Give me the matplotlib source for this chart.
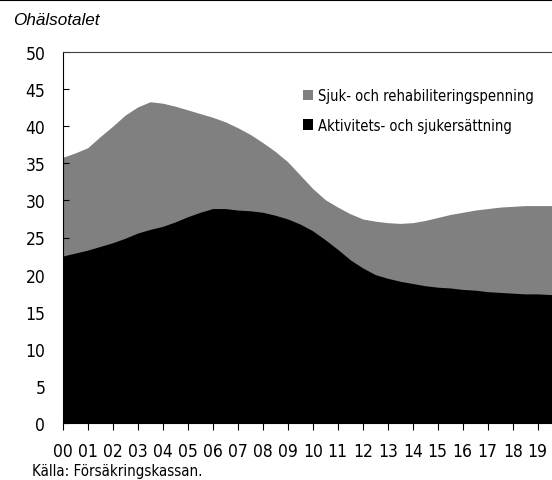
import matplotlib
matplotlib.use("Agg")
import matplotlib.pyplot as plt
from matplotlib.patches import Patch
from matplotlib.lines import Line2D
from matplotlib import font_manager as fm

# Data (half-year readings, years since 2000)
years = [0.0, 0.5, 1.0, 1.5, 2.0, 2.5, 3.0, 3.5, 4.0, 4.5, 5.0, 5.5, 6.0, 6.5,
         7.0, 7.5, 8.0, 8.5, 9.0, 9.5, 10.0, 10.5, 11.0, 11.5, 12.0, 12.5,
         13.0, 13.5, 14.0, 14.5, 15.0, 15.5, 16.0, 16.5, 17.0, 17.5, 18.0,
         18.5, 19.0, 19.57]
total = [35.8, 36.4, 37.1, 38.6, 40.0, 41.5, 42.6, 43.3, 43.1, 42.7, 42.2,
         41.7, 41.2, 40.6, 39.8, 38.9, 37.8, 36.6, 35.2, 33.4, 31.6, 30.1,
         29.1, 28.2, 27.5, 27.2, 27.0, 26.9, 27.0, 27.3, 27.7, 28.1, 28.4,
         28.7, 28.9, 29.1, 29.2, 29.3, 29.3, 29.3]
aktivitet = [22.5, 22.9, 23.3, 23.8, 24.3, 24.9, 25.6, 26.1, 26.5, 27.1,
             27.8, 28.4, 28.9, 28.9, 28.7, 28.6, 28.4, 28.0, 27.5, 26.8,
             25.9, 24.7, 23.4, 22.0, 20.9, 20.0, 19.5, 19.1, 18.8, 18.5,
             18.3, 18.2, 18.0, 17.9, 17.7, 17.6, 17.5, 17.4, 17.4, 17.3]
tick_labels = ["00", "01", "02", "03", "04", "05", "06", "07", "08", "09",
               "10", "11", "12", "13", "14", "15", "16", "17", "18", "19"]
series_labels = ["Sjuk- och rehabiliteringspenning", "Aktivitets- och sjukersättning"]

# Find a condensed / narrow regular font if one is installed
cond = None
for f in fm.fontManager.ttflist:
    nm = (f.name + " " + f.fname).lower()
    is_cond = ("condensed" in nm or "narrow" in nm or
               str(f.stretch) in ("condensed", "semi-condensed", "extra-condensed"))
    if is_cond and f.style == "normal" and str(f.weight) in ("400", "normal", "book", "regular") \
            and "mono" not in nm and "serif" not in nm.replace("sans", ""):
        cond = f.fname
        break

if cond:
    def fp(size):
        return fm.FontProperties(fname=cond, size=size)
    tick_size, leg_size, src_size = 12.5, 10.5, 10.8
else:
    def fp(size):
        return fm.FontProperties(family=["Liberation Sans", "DejaVu Sans"], size=size)
    tick_size, leg_size, src_size = 11, 9.5, 9.5

W, H = 552, 481
fig = plt.figure(figsize=(W / 100, H / 100), dpi=100)
ax = fig.add_axes([62.7 / W, 1 - 424 / H, 1 - 62.7 / W, (424 - 53) / H])

ax.fill_between(years, 0, total, color="#808080", linewidth=0)
ax.fill_between(years, 0, aktivitet, color="#000000", linewidth=0)

ax.set_xlim(0, 19.57)
ax.set_ylim(0, 50)
ax.set_xticks(range(len(tick_labels)))
ax.set_xticklabels(tick_labels)
ax.set_yticks(range(0, 51, 5))

for lab in ax.get_xticklabels() + ax.get_yticklabels():
    lab.set_fontproperties(fp(tick_size))

ax.tick_params(axis="y", direction="in", length=4.3, width=0.8, pad=12.5, left=True)
ax.tick_params(axis="x", direction="out", length=5, width=0.8, pad=8.5)

ax.spines["right"].set_visible(False)
ax.spines["top"].set_color("#404040")
ax.spines["top"].set_linewidth(0.8)
ax.spines["left"].set_linewidth(0.8)
ax.spines["bottom"].set_linewidth(0.8)

handles = [Patch(facecolor="#808080", edgecolor="none"),
           Patch(facecolor="#000000", edgecolor="none")]
leg = ax.legend(handles, series_labels, loc="upper left",
                bbox_to_anchor=(303 / W, 1 - 89 / H), bbox_transform=fig.transFigure,
                frameon=False, handlelength=0.7, handleheight=0.7,
                handletextpad=0.33, labelspacing=1.0, borderaxespad=0,
                borderpad=0, prop=fp(leg_size))

fig.text(13 / W, 1 - 20.7 / H, "Ohälsotalet", fontsize=12.3, style="italic",
         family=["Liberation Sans", "DejaVu Sans"], va="center", ha="left")
fig.text(32 / W, 1 - 472 / H, "Källa: Försäkringskassan.", fontproperties=fp(src_size),
         va="center", ha="left")

fig.add_artist(Line2D([0, 1], [1 - 0.8 / H, 1 - 0.8 / H], color="black",
                      linewidth=1.5, transform=fig.transFigure))

fig.savefig("out.png", dpi=100)
